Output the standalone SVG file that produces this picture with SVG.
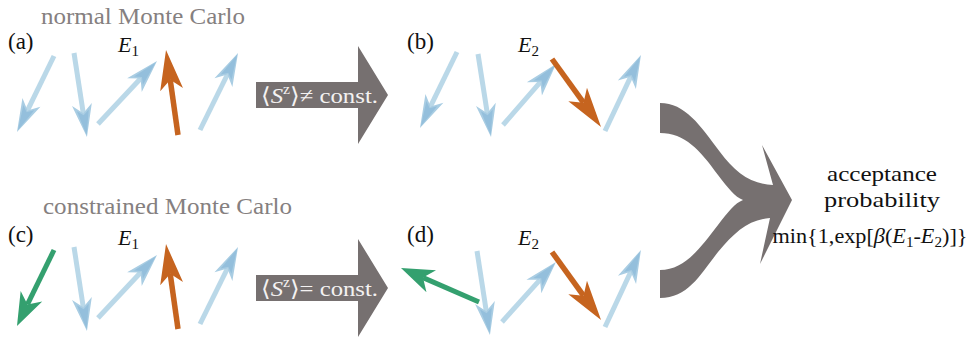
<svg xmlns="http://www.w3.org/2000/svg" width="971" height="338" viewBox="0 0 971 338">
<style>
text{font-family:"Liberation Serif","DejaVu Serif",serif;}
.lab{font-size:23px;fill:#111;}
.cap{font-size:23px;fill:#858080;}
.e{font-size:22px;fill:#111;}
.it{font-style:italic;}
.sub{font-size:15px;}
.box{font-size:22px;fill:#f4f2f2;}
.res{font-size:22px;fill:#111;text-anchor:middle;}
.big{fill:#767070;}
.b{stroke:#bad8e8;stroke-width:5;fill:none;marker-end:url(#hb);}
.o{stroke:#c6641f;stroke-width:5.5;fill:none;marker-end:url(#ho);}
.g{stroke:#34a06f;stroke-width:5;fill:none;marker-end:url(#hg);}
</style>
<defs>
<marker id="hb" markerUnits="userSpaceOnUse" orient="auto" refX="0" refY="0" markerWidth="40" markerHeight="30" overflow="visible">
<path d="M24,0 L-9,-10 L0,0 L-9,10 Z" fill="#a9cde3"/>
<path d="M22,0 L-3,-6 L2,0 L-3,6 Z" fill="#8fbcd9" opacity="0.8"/>
</marker>
<marker id="ho" markerUnits="userSpaceOnUse" orient="auto" refX="0" refY="0" markerWidth="40" markerHeight="30" overflow="visible">
<path d="M30,0 L-10,-11.5 L0,0 L-10,11.5 Z" fill="#c6641f"/>
</marker>
<marker id="hg" markerUnits="userSpaceOnUse" orient="auto" refX="0" refY="0" markerWidth="40" markerHeight="30" overflow="visible">
<path d="M24,0 L-9,-12 L0,0 L-9,12 Z" fill="#34a06f"/>
</marker>
</defs>

<text class="cap" x="41" y="24" textLength="204" lengthAdjust="spacingAndGlyphs">normal Monte Carlo</text>
<text class="cap" x="43" y="214" textLength="249" lengthAdjust="spacingAndGlyphs">constrained Monte Carlo</text>

<g id="panel-a">
<text class="lab" x="8" y="49">(a)</text>
<text class="e" x="118" y="52"><tspan class="it">E</tspan><tspan class="sub" dy="4">1</tspan></text>
<line class="b" x1="54" y1="56" x2="27.5" y2="110.4"/>
<line class="b" x1="74" y1="53" x2="83.3" y2="113.3"/>
<line class="b" x1="98" y1="124" x2="140.6" y2="78.5"/>
<line class="o" x1="178" y1="135" x2="170.2" y2="79.7"/>
<line class="b" x1="200" y1="130" x2="227.4" y2="74.5"/>
</g>

<g id="panel-b">
<text class="lab" x="407" y="49">(b)</text>
<text class="e" x="518" y="52"><tspan class="it">E</tspan><tspan class="sub" dy="4">2</tspan></text>
<line class="b" x1="457" y1="52" x2="430.5" y2="106.4"/>
<line class="b" x1="478" y1="54" x2="487.3" y2="113.3"/>
<line class="b" x1="503" y1="125" x2="540.3" y2="82.1"/>
<line class="o" x1="552" y1="59" x2="583.5" y2="102.7"/>
<line class="b" x1="605" y1="131" x2="630.7" y2="76.7"/>
</g>

<g id="panel-c">
<text class="lab" x="8" y="242">(c)</text>
<text class="e" x="118" y="245"><tspan class="it">E</tspan><tspan class="sub" dy="4">1</tspan></text>
<line class="g" x1="54" y1="250" x2="27.5" y2="304.4"/>
<line class="b" x1="74" y1="247" x2="83.3" y2="307.3"/>
<line class="b" x1="98" y1="318" x2="140.6" y2="272.5"/>
<line class="o" x1="178" y1="329" x2="170.2" y2="273.7"/>
<line class="b" x1="200" y1="324" x2="227.4" y2="268.5"/>
</g>

<g id="panel-d">
<text class="lab" x="407" y="242">(d)</text>
<text class="e" x="518" y="245"><tspan class="it">E</tspan><tspan class="sub" dy="4">2</tspan></text>
<line class="b" x1="477" y1="251" x2="486.3" y2="311.3"/>
<line class="g" x1="479" y1="302" x2="423" y2="277.6"/>
<line class="b" x1="502" y1="322" x2="539.9" y2="279.8"/>
<line class="o" x1="552" y1="252" x2="583.5" y2="295.7"/>
<line class="b" x1="605" y1="327" x2="630.8" y2="271.7"/>
</g>

<g id="connectors">
<g id="arrow-top">
<path class="big" d="M256,82 H358 V46 L388,95 L358,144 V108 H256 Z"/>
<text class="box" x="261" y="103" textLength="117" lengthAdjust="spacingAndGlyphs">⟨<tspan class="it">S</tspan><tspan font-size="14" dy="-9">z</tspan><tspan dy="9">⟩≠ const.</tspan></text>
</g>
<g id="arrow-bottom">
<path class="big" d="M256,275 H358 V239 L388,288 L358,337 V301 H256 Z"/>
<text class="box" x="261" y="296" textLength="117" lengthAdjust="spacingAndGlyphs">⟨<tspan class="it">S</tspan><tspan font-size="14" dy="-9">z</tspan><tspan dy="9">⟩= const.</tspan></text>
</g>
<path id="merge-arrow" class="big" d="M660,103 C685,103 700,125 720,152 C735,172 750,184 773,185 L762,145 L792,200 L760,264 L770,218 C748,220 735,232 718,252 C700,275 688,298 660,298 L660,270 C685,270 700,248 718,225 C728,212 735,203 743,200 C735,197 728,188 718,175 C700,150 685,133 660,133 Z"/>
</g>

<g id="result">
<text class="res" x="882" y="181" textLength="110" lengthAdjust="spacingAndGlyphs">acceptance</text>
<text class="res" x="882" y="207" textLength="116" lengthAdjust="spacingAndGlyphs">probability</text>
<text class="res" x="870" y="243" textLength="195" lengthAdjust="spacingAndGlyphs">min{1,exp[<tspan class="it">β</tspan>(<tspan class="it">E</tspan><tspan class="sub" dy="4">1</tspan><tspan dy="-4">-</tspan><tspan class="it">E</tspan><tspan class="sub" dy="4">2</tspan><tspan dy="-4">)]}</tspan></text>
</g>
</svg>
